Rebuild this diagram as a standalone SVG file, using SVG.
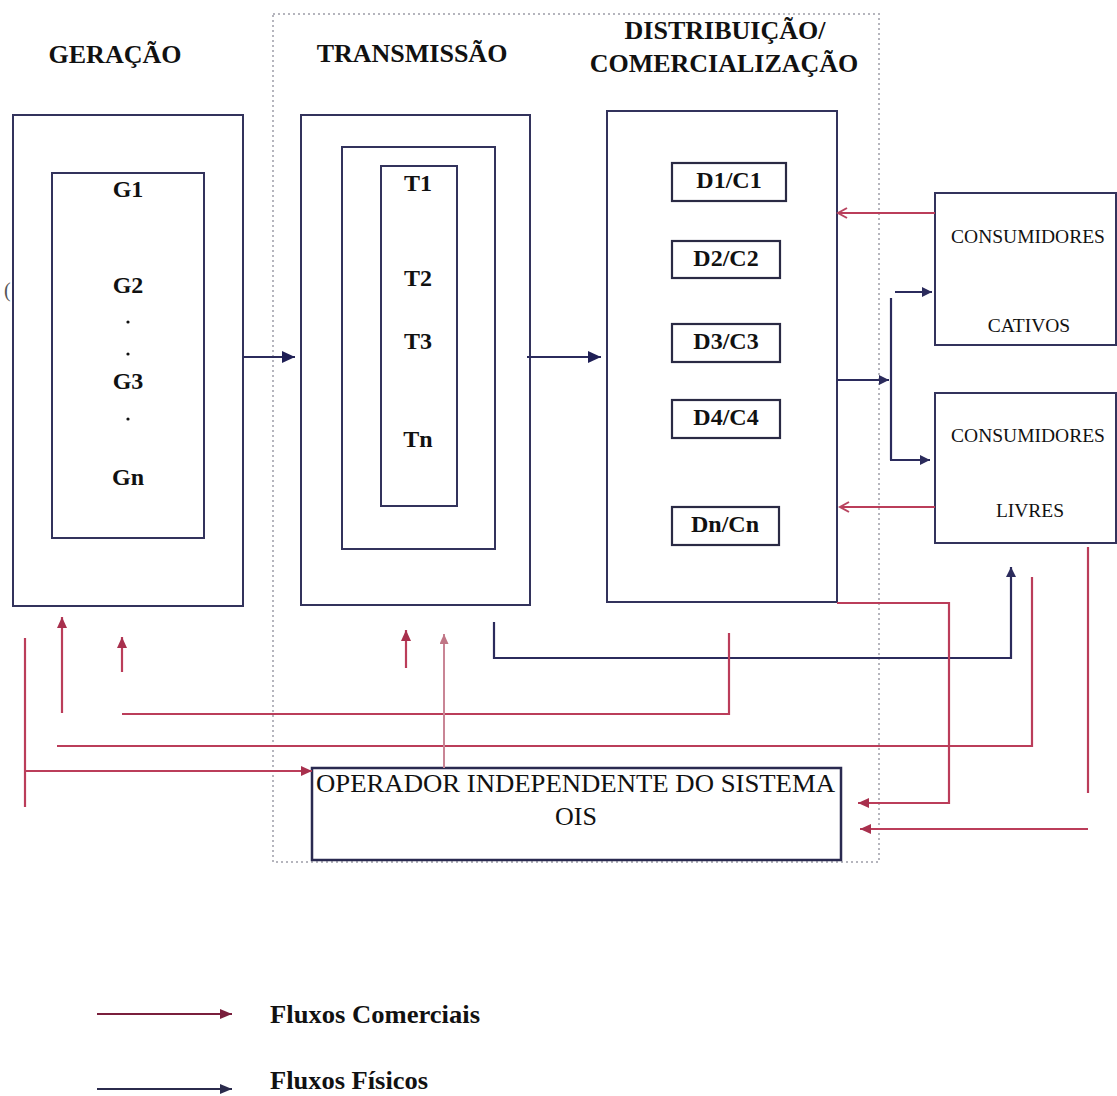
<svg xmlns="http://www.w3.org/2000/svg" width="1117" height="1096" viewBox="0 0 1117 1096">
<style>
.box{fill:none;stroke:#33335c;stroke-width:2}
.dbox{fill:#fff;stroke:#2a2a44;stroke-width:2.2}
.title{font-family:"Liberation Serif",serif;font-weight:bold;font-size:26px;fill:#111;text-anchor:middle}
.lab{font-family:"Liberation Serif",serif;font-weight:bold;font-size:24px;fill:#111;text-anchor:middle}
.reg{font-family:"Liberation Serif",serif;font-size:19.5px;fill:#111;text-anchor:middle}
.ois{font-family:"Liberation Serif",serif;font-size:26px;fill:#111}
.leg{font-family:"Liberation Serif",serif;font-weight:bold;font-size:26px;fill:#111}
.red{fill:none;stroke:#bb3d5a;stroke-width:2.2}
.redl{fill:none;stroke:#c98595;stroke-width:2}
.blue{fill:none;stroke:#2b2b5c;stroke-width:2.2}
</style>
<defs>
<marker id="arrB" markerUnits="userSpaceOnUse" markerWidth="13" markerHeight="12" refX="13" refY="6" orient="auto"><path d="M0,0 L13,6 L0,12 z" fill="#1f1f55"/></marker>
<marker id="arrBs" markerUnits="userSpaceOnUse" markerWidth="10" markerHeight="10" refX="10" refY="5" orient="auto"><path d="M0,0 L10,5 L0,10 z" fill="#2b2b5c"/></marker>
<marker id="arrR" markerUnits="userSpaceOnUse" markerWidth="11" markerHeight="10" refX="11" refY="5" orient="auto"><path d="M0,0 L11,5 L0,10 z" fill="#a8304d"/></marker>
<marker id="arrRl" markerUnits="userSpaceOnUse" markerWidth="10" markerHeight="9" refX="10" refY="4.5" orient="auto"><path d="M0,0 L10,4.5 L0,9 z" fill="#c07585"/></marker>
<marker id="chevR" markerUnits="userSpaceOnUse" markerWidth="12" markerHeight="12" refX="10" refY="6" orient="auto"><path d="M1,1 L10,6 L1,11" fill="none" stroke="#b84560" stroke-width="2"/></marker>
<marker id="legR" markerUnits="userSpaceOnUse" markerWidth="12" markerHeight="10" refX="12" refY="5" orient="auto"><path d="M0,0 L12,5 L0,10 z" fill="#7a1f3c"/></marker>
<marker id="legB" markerUnits="userSpaceOnUse" markerWidth="12" markerHeight="10" refX="12" refY="5" orient="auto"><path d="M0,0 L12,5 L0,10 z" fill="#2b2b4c"/></marker>
</defs>
<rect width="1117" height="1096" fill="#fff"/>

<!-- dotted boundary -->
<rect x="273" y="14" width="606" height="848" fill="none" stroke="#b5b5bd" stroke-width="2" stroke-dasharray="2 3"/>

<!-- titles -->
<text class="title" x="115" y="63">GERAÇÃO</text>
<text class="title" x="412" y="62">TRANSMISSÃO</text>
<text class="title" x="725" y="39">DISTRIBUIÇÃO/</text>
<text class="title" x="724" y="72">COMERCIALIZAÇÃO</text>

<g id="geracao">
<rect class="box" x="13" y="115" width="230" height="491"/>
<rect class="box" x="52" y="173" width="152" height="365"/>
<text class="lab" x="128" y="197">G1</text>
<text class="lab" x="128" y="293">G2</text>
<circle cx="128" cy="322" r="1.6" fill="#111"/>
<circle cx="128" cy="354" r="1.6" fill="#111"/>
<text class="lab" x="128" y="389">G3</text>
<circle cx="128" cy="419" r="1.6" fill="#111"/>
<text class="lab" x="128" y="485">Gn</text>
<text x="4" y="297" font-family="Liberation Serif, serif" font-size="20" fill="#555">(</text>
</g>

<g id="transmissao">
<rect class="box" x="301" y="115" width="229" height="490"/>
<rect class="box" x="342" y="147" width="153" height="402"/>
<rect class="box" x="381" y="166" width="76" height="340"/>
<text class="lab" x="418" y="191">T1</text>
<text class="lab" x="418" y="286">T2</text>
<text class="lab" x="418" y="349">T3</text>
<text class="lab" x="418" y="447">Tn</text>
</g>

<g id="distribuicao">
<rect class="box" x="607" y="111" width="230" height="491"/>
<g id="d1"><rect class="dbox" x="672" y="163" width="114" height="38"/><text class="lab" x="729" y="188">D1/C1</text></g>
<g id="d2"><rect class="dbox" x="672" y="241" width="108" height="37"/><text class="lab" x="726" y="266">D2/C2</text></g>
<g id="d3"><rect class="dbox" x="672" y="324" width="108" height="38"/><text class="lab" x="726" y="349">D3/C3</text></g>
<g id="d4"><rect class="dbox" x="672" y="400" width="108" height="38"/><text class="lab" x="726" y="425">D4/C4</text></g>
<g id="dn"><rect class="dbox" x="672" y="507" width="107" height="38"/><text class="lab" x="725" y="532">Dn/Cn</text></g>
</g>

<g id="cativos">
<rect class="box" x="935" y="193" width="181" height="152"/>
<text class="reg" x="1028" y="243">CONSUMIDORES</text>
<text class="reg" x="1029" y="332">CATIVOS</text>
</g>

<g id="livres">
<rect class="box" x="935" y="393" width="181" height="150"/>
<text class="reg" x="1028" y="442">CONSUMIDORES</text>
<text class="reg" x="1030" y="517">LIVRES</text>
</g>

<g id="ois">
<rect x="312" y="768" width="529" height="92" fill="none" stroke="#2a2a50" stroke-width="2.5"/>
<text class="ois" x="316" y="792" textLength="519" lengthAdjust="spacingAndGlyphs">OPERADOR INDEPENDENTE DO SISTEMA</text>
<text class="ois" x="576" y="825" text-anchor="middle">OIS</text>
</g>

<g id="connectors">
<!-- physical flows -->
<line class="blue" x1="243" y1="357" x2="295" y2="357" marker-end="url(#arrB)"/>
<line class="blue" x1="527" y1="357" x2="601" y2="357" marker-end="url(#arrB)"/>
<line class="blue" x1="837" y1="380" x2="889" y2="380" marker-end="url(#arrBs)"/>
<line class="blue" x1="891" y1="298" x2="891" y2="460"/>
<line class="blue" x1="895" y1="292" x2="932" y2="292" marker-end="url(#arrBs)"/>
<line class="blue" x1="890" y1="460" x2="930" y2="460" marker-end="url(#arrBs)"/>
<polyline class="blue" points="494,622 494,658 1011,658 1011,567" marker-end="url(#arrBs)"/>

<!-- commercial flows -->
<line class="red" x1="935" y1="213" x2="838" y2="213" marker-end="url(#chevR)"/>
<line class="red" x1="935" y1="507" x2="840" y2="507" marker-end="url(#chevR)"/>
<line class="red" x1="25" y1="638" x2="25" y2="807"/>
<line class="red" x1="25" y1="771" x2="312" y2="771" marker-end="url(#arrR)"/>
<line class="red" x1="62" y1="713" x2="62" y2="617" marker-end="url(#arrR)"/>
<line class="red" x1="122" y1="672" x2="122" y2="637" marker-end="url(#arrR)"/>
<polyline class="red" points="122,714 729,714 729,633"/>
<polyline class="red" points="57,746 1032,746 1032,577"/>
<line class="red" x1="406" y1="668" x2="406" y2="630" marker-end="url(#arrR)"/>
<line class="redl" x1="444" y1="768" x2="444" y2="634" marker-end="url(#arrRl)"/>
<polyline class="red" points="837,603 949,603 949,803 858,803" marker-end="url(#arrR)"/>
<line class="red" x1="1088" y1="547" x2="1088" y2="793"/>
<line class="red" x1="1088" y1="829" x2="860" y2="829" marker-end="url(#arrR)"/>
</g>

<g id="legend">
<line x1="97" y1="1014" x2="232" y2="1014" stroke="#7a1f3c" stroke-width="2.2" marker-end="url(#legR)"/>
<text class="leg" x="270" y="1023" textLength="210" lengthAdjust="spacingAndGlyphs">Fluxos Comerciais</text>
<line x1="97" y1="1089" x2="232" y2="1089" stroke="#2b2b4c" stroke-width="2" marker-end="url(#legB)"/>
<text class="leg" x="270" y="1089" textLength="158" lengthAdjust="spacingAndGlyphs">Fluxos Físicos</text>
</g>
</svg>
